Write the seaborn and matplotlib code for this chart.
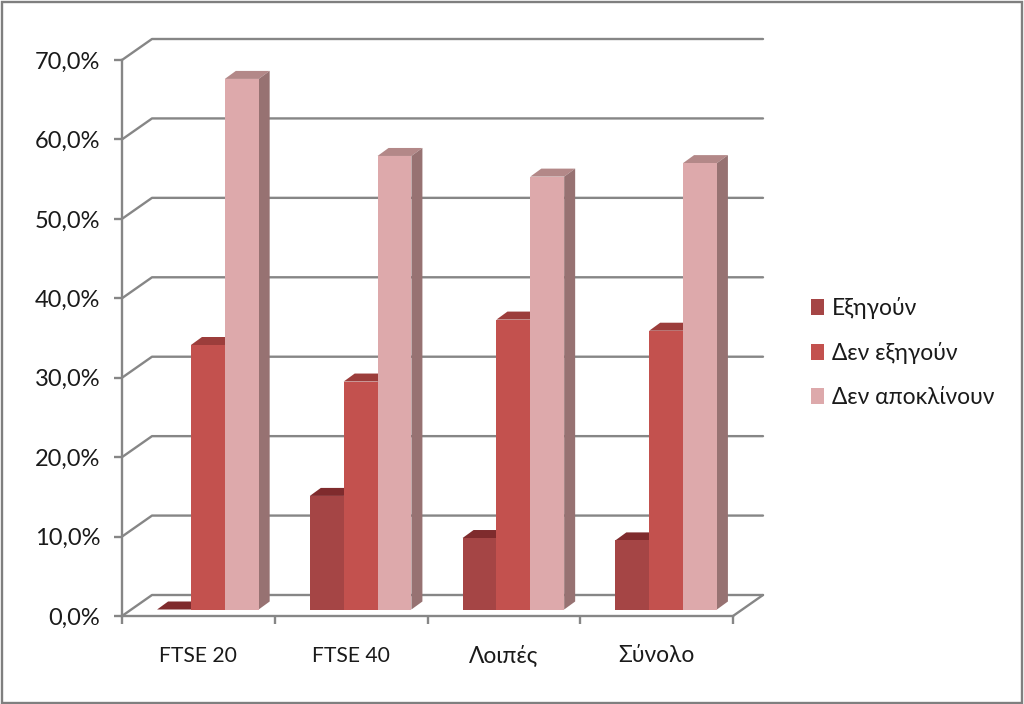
import matplotlib
matplotlib.use("Agg")
import matplotlib.pyplot as plt
import pandas as pd
import seaborn as sns
from matplotlib.patches import Polygon, Rectangle
from matplotlib.ticker import FuncFormatter
from matplotlib.transforms import Affine2D

categories = ["FTSE 20", "FTSE 40", "Λοιπές", "Σύνολο"]
series_names = ["Εξηγούν", "Δεν εξηγούν", "Δεν αποκλίνουν"]
explain = [0.0, 14.3, 9.0, 8.7]
not_explain = [33.3, 28.7, 36.5, 35.1]
no_deviation = [66.8, 57.1, 54.5, 56.2]
y_ticks = [0, 10, 20, 30, 40, 50, 60, 70]

front_colors = ["#A54545", "#C3514E", "#DDA9AB"]
top_colors = ["#7F2B2D", "#9C3D3B", "#B38888"]
side_colors = ["#7A3535", "#8E3E3C", "#977272"]
grid_color = "#868686"

df = pd.DataFrame({
    "group": categories * 3,
    "series": [s for s in series_names for _ in categories],
    "value": explain + not_explain + no_deviation,
})

sns.set_theme(style="white")
plt.rcParams["font.family"] = ["Lato", "Noto Sans", "DejaVu Sans"]
plt.rcParams["text.color"] = "#1a1a1a"

W, H = 1024, 704
fig = plt.figure(figsize=(W / 100, H / 100), dpi=100, facecolor="white")
ax = fig.add_axes([122 / W, 1 - 616 / H, (733 - 122) / W, (616 - 60) / H])
ax.patch.set_alpha(0)

sns.barplot(data=df, x="group", y="value", hue="series", hue_order=series_names,
            order=categories, palette=front_colors, saturation=1, width=0.665,
            gap=0, errorbar=None, linewidth=0, ax=ax, legend=True)
ax.set_xlim(-0.5, 3.5)
ax.set_ylim(0, 70)
ax.set_xlabel("")
ax.set_ylabel("")

px_x = (733 - 122) / 4      # pixels per category
px_y = (616 - 60) / 70      # pixels per percent
wall_dx, wall_dy = 30 / px_x, 21 / px_y
bar_dx, bar_dy = 9.5 / px_x, 6.5 / px_y
depth_dx, depth_dy = 11 / px_x, 8 / px_y

# back wall grid, side wall slants
for v in y_ticks:
    ax.plot([-0.5, -0.5 + wall_dx, 3.5 + wall_dx],
            [v, v + wall_dy, v + wall_dy],
            color=grid_color, lw=1.7, clip_on=False, zorder=1)
ax.plot([3.5, 3.5 + wall_dx], [0, wall_dy], color=grid_color, lw=1.7, clip_on=False, zorder=1)

# bars: front faces are moved into the floor's depth, tops and sides added
shift = Affine2D().translate(9.5, 6.5)
for s, container in enumerate(ax.containers):
    for bar in container:
        x0 = bar.get_x() + bar_dx
        x1 = x0 + bar.get_width()
        h = bar.get_height() + bar_dy
        base = bar_dy
        z = 3 + s
        bar.set_transform(ax.transData + shift)
        bar.set_clip_on(False)
        bar.set_zorder(z + 0.2)
        ax.add_patch(Polygon([(x0, h), (x1, h), (x1 + depth_dx, h + depth_dy), (x0 + depth_dx, h + depth_dy)],
                             closed=True, fc=top_colors[s], ec="none", clip_on=False, zorder=z))
        ax.add_patch(Polygon([(x1, base), (x1 + depth_dx, base + depth_dy), (x1 + depth_dx, h + depth_dy), (x1, h)],
                             closed=True, fc=side_colors[s], ec="none", clip_on=False, zorder=z))

# axes
sns.despine(ax=ax, top=True, right=True)
for sp in ("left", "bottom"):
    ax.spines[sp].set_color(grid_color)
    ax.spines[sp].set_linewidth(1.7)
    ax.spines[sp].set_zorder(2)
ax.set_yticks(y_ticks)
ax.yaxis.set_major_formatter(FuncFormatter(lambda v, _: f"{v:.1f}%".replace(".", ",")))
ax.set_xticks(range(len(categories)))
ax.set_xticklabels(categories)
ax.set_xticks([i - 0.5 for i in range(len(categories) + 1)], minor=True)
ax.tick_params(axis="y", which="major", left=True, length=5.8, width=1.7, color=grid_color,
               labelsize=17, pad=10, labelcolor="#1a1a1a")
ax.tick_params(axis="x", which="major", bottom=False, length=0, labelsize=15.2, pad=33, labelcolor="#1a1a1a")
ax.tick_params(axis="x", which="minor", bottom=True, length=5.8, width=1.7, color=grid_color)
for lab in ax.get_xticklabels():
    lab.set_va("baseline")
    if not lab.get_text().startswith("FTSE"):
        lab.set_fontsize(16.4)

# legend
handles, labels = ax.get_legend_handles_labels()
ax.get_legend().remove()
leg = fig.legend(handles, labels, loc="center left", bbox_to_anchor=(811 / W, 1 - 352.5 / H),
                 frameon=False, fontsize=16.4, handlelength=0.57, handleheight=0.7,
                 handletextpad=0.33, labelspacing=1.02, borderpad=0, borderaxespad=0)

# image frame
fig.add_artist(Rectangle((1.5 / W, 1.5 / H), (W - 3.5) / W, (H - 3) / H, transform=fig.transFigure,
                         fc="none", ec="#7f7f7f", lw=1.7))

fig.savefig("out.png", dpi=100)
